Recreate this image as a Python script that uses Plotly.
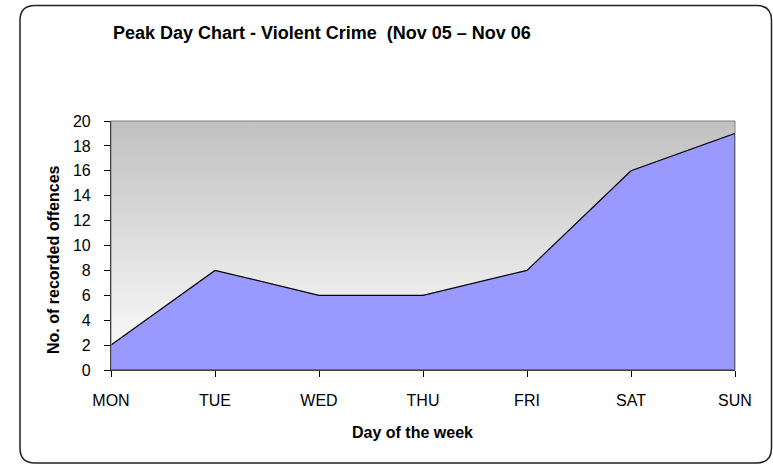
import plotly.graph_objects as go

days = ["MON", "TUE", "WED", "THU", "FRI", "SAT", "SUN"]
offences = [2, 8, 6, 6, 8, 16, 19]
y_ticks = [0, 2, 4, 6, 8, 10, 12, 14, 16, 18, 20]
Y_MAX = 20

title_text = "Peak Day Chart - Violent Crime  (Nov 05 \u2013 Nov 06"
x_title = "Day of the week"
y_title = "No. of recorded offences"

W, H = 773, 465
L, R, T, B = 111, 735, 121, 370
FONT = "Liberation Sans, Arial, sans-serif"


def px(xp):
    return (xp - L) / (R - L)


def py(yp):
    return (B - yp) / (B - T)


fig = go.Figure()

# gradient plot background
fig.add_trace(go.Scatter(
    x=[days[0], days[-1], days[-1], days[0]],
    y=[0, 0, Y_MAX, Y_MAX],
    fill="toself",
    fillgradient=dict(type="vertical",
                      colorscale=[[0, "#ffffff"], [1, "#c0c0c0"]]),
    line=dict(width=0),
    mode="lines",
    hoverinfo="skip",
    showlegend=False,
))

# area series
fig.add_trace(go.Scatter(
    x=days + [days[-1], days[0]],
    y=offences + [0, 0],
    fill="toself",
    fillcolor="#9999ff",
    line=dict(color="#000000", width=1.2),
    mode="lines",
    showlegend=False,
))

# rounded outer border
x0, y0, x1, y1, r = 20, 5.5, 771.5, 463, 15
path = (
    f"M {px(x0 + r)},{py(y0)} L {px(x1 - r)},{py(y0)} "
    f"Q {px(x1)},{py(y0)} {px(x1)},{py(y0 + r)} "
    f"L {px(x1)},{py(y1 - r)} Q {px(x1)},{py(y1)} {px(x1 - r)},{py(y1)} "
    f"L {px(x0 + r)},{py(y1)} Q {px(x0)},{py(y1)} {px(x0)},{py(y1 - r)} "
    f"L {px(x0)},{py(y0 + r)} Q {px(x0)},{py(y0)} {px(x0 + r)},{py(y0)} Z"
)
shapes = [
    dict(type="path", path=path, xref="paper", yref="paper",
         line=dict(color="#222222", width=1.5)),
    dict(type="rect", x0=0, x1=1, y0=0, y1=1, xref="paper", yref="paper",
         line=dict(color="#808080", width=1), layer="above"),
]

annotations = [
    dict(text=f"<b>{title_text}</b>", x=px(111), y=py(33), xref="paper", yref="paper",
         xanchor="left", yanchor="middle", showarrow=False,
         font=dict(family=FONT, size=18, color="#000000")),
    dict(text=f"<b>{x_title}</b>", x=px(412.5), y=py(432), xref="paper", yref="paper",
         xanchor="center", yanchor="middle", showarrow=False,
         font=dict(family=FONT, size=16, color="#000000")),
    dict(text=f"<b>{y_title}</b>", x=px(53), y=py(260), xref="paper", yref="paper",
         xanchor="center", yanchor="middle", showarrow=False, textangle=-90,
         font=dict(family=FONT, size=16, color="#000000")),
]

fig.update_layout(
    width=W, height=H,
    margin=dict(l=L, r=W - R, t=T, b=H - B),
    paper_bgcolor="#ffffff",
    plot_bgcolor="#ffffff",
    shapes=shapes,
    annotations=annotations,
    font=dict(family=FONT, size=16, color="#000000"),
    xaxis=dict(
        type="category", categoryorder="array", categoryarray=days,
        range=[0, len(days) - 1],
        showgrid=False, zeroline=False,
        showline=True, linecolor="#000000", linewidth=1.2,
        ticks="outside", ticklen=6, tickcolor="#000000", tickwidth=1,
        ticklabelstandoff=10,
        tickfont=dict(family=FONT, size=16, color="#000000"),
        fixedrange=True,
    ),
    yaxis=dict(
        range=[0, Y_MAX], tickvals=y_ticks,
        showgrid=False, zeroline=False,
        showline=True, linecolor="#000000", linewidth=1.2,
        ticks="outside", ticklen=6, tickcolor="#000000", tickwidth=1,
        ticklabelstandoff=10,
        tickfont=dict(family=FONT, size=16, color="#000000"),
        fixedrange=True,
    ),
)

fig.write_html(
    "out.html",
    config={"displayModeBar": False},
    post_script="document.body.style.margin='0';document.body.style.overflow='hidden';",
)
